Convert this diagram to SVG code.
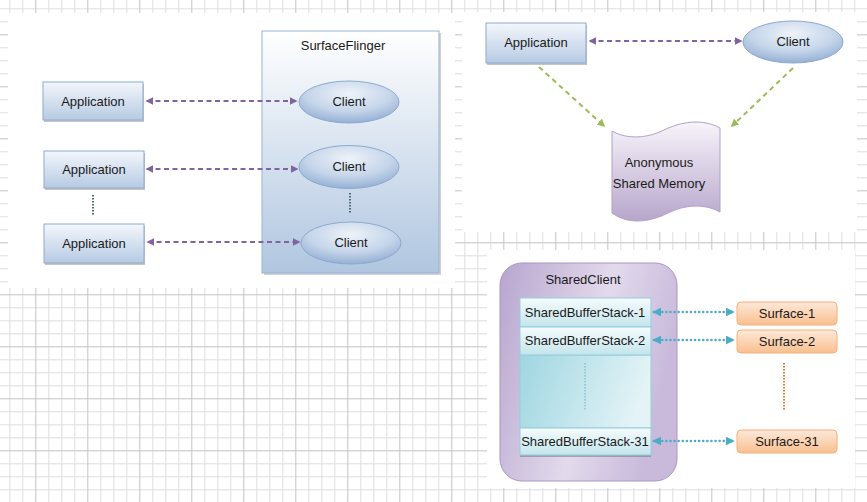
<svg xmlns="http://www.w3.org/2000/svg" width="867" height="502" viewBox="0 0 867 502">
<defs>
<pattern id="grid" patternUnits="userSpaceOnUse" x="9.3" y="8.3" width="52" height="52">
<path d="M0.5,0V52M13.5,0V52M39.5,0V52M0,0.5H52M0,13.5H52M0,39.5H52" stroke="#dedede" stroke-width="1" fill="none"/>
<path d="M26.5,0V52M0,26.5H52" stroke="#c4c4c4" stroke-width="1" fill="none"/>
</pattern>
<linearGradient id="gApp" x1="0" y1="0" x2="0" y2="1"><stop offset="0" stop-color="#f4f7fc"/><stop offset="1" stop-color="#b6cae3"/></linearGradient>
<linearGradient id="gSF" x1="0" y1="0" x2="0" y2="1"><stop offset="0" stop-color="#ffffff"/><stop offset="1" stop-color="#b0c6e0"/></linearGradient>
<radialGradient id="gCl" cx="0.5" cy="0.3" r="0.7"><stop offset="0" stop-color="#eef3f9"/><stop offset="0.6" stop-color="#c5d5ea"/><stop offset="1" stop-color="#95b0d4"/></radialGradient>
<linearGradient id="gMem" x1="0" y1="0" x2="0" y2="1"><stop offset="0" stop-color="#f7f4fa"/><stop offset="1" stop-color="#b7a6cc"/></linearGradient>
<linearGradient id="gSC" x1="0" y1="0" x2="1" y2="0.3"><stop offset="0" stop-color="#b8a5cf"/><stop offset="0.6" stop-color="#e2daec"/><stop offset="1" stop-color="#c9badb"/></linearGradient>
<linearGradient id="gRow" x1="0" y1="0" x2="0" y2="1"><stop offset="0" stop-color="#f6fbfc"/><stop offset="1" stop-color="#c3e5ec"/></linearGradient>
<linearGradient id="gMid" x1="0" y1="0" x2="1" y2="0.2"><stop offset="0" stop-color="#9fd6e1"/><stop offset="1" stop-color="#e3f3f6"/></linearGradient>
<linearGradient id="gSurf" x1="0" y1="0" x2="0" y2="1"><stop offset="0" stop-color="#fde9d9"/><stop offset="1" stop-color="#f9bf8f"/></linearGradient>
<marker id="mP" viewBox="0 0 10 10" refX="8" refY="5" markerWidth="4" markerHeight="4" orient="auto-start-reverse" markerUnits="strokeWidth"><path d="M0,0L10,5L0,10Z" fill="#8064a2"/></marker>
<marker id="mG" viewBox="0 0 10 10" refX="8" refY="5" markerWidth="4" markerHeight="4" orient="auto-start-reverse" markerUnits="strokeWidth"><path d="M0,0L10,5L0,10Z" fill="#9bbb59"/></marker>
<marker id="mT" viewBox="0 0 10 10" refX="8" refY="5" markerWidth="3.5" markerHeight="3.5" orient="auto-start-reverse" markerUnits="strokeWidth"><path d="M0,0L10,5L0,10Z" fill="#4bacc6"/></marker>
</defs>
<style>
text{font-family:"Liberation Sans",Arial,sans-serif;font-size:13px;fill:#1a1a1a;text-anchor:middle}
.app{fill:url(#gApp);stroke:#8eaad0;stroke-width:1}
.sh{fill:#7f7f7f;opacity:0.45}
.cl{fill:url(#gCl);stroke:#8ea9cf;stroke-width:1}
.pa{stroke:#8064a2;stroke-width:2;stroke-dasharray:5 3.5;fill:none;marker-start:url(#mP);marker-end:url(#mP)}
.ga{stroke:#9bbb59;stroke-width:2;stroke-dasharray:5 4;fill:none;marker-end:url(#mG)}
.ta{stroke:#4bacc6;stroke-width:2.5;stroke-dasharray:0.1 4;stroke-linecap:round;fill:none;marker-start:url(#mT);marker-end:url(#mT)}
.row{fill:url(#gRow);stroke:#93cddd;stroke-width:1}
.surf{fill:url(#gSurf);stroke:#f3b07a;stroke-width:1}
</style>
<rect width="867" height="502" fill="#ffffff"/>
<rect width="867" height="502" fill="url(#grid)"/>
<rect x="8" y="13" width="447" height="275" fill="#ffffff"/>
<rect x="462" y="12" width="395" height="220" fill="#ffffff"/>
<rect x="487" y="250" width="368" height="238" fill="#ffffff"/>

<g id="surfaceflinger">
<rect x="264" y="33" width="177" height="242" fill="#7f7f7f" opacity="0.35"/>
<rect x="262" y="31" width="177" height="242" fill="url(#gSF)" stroke="#95b3d7" stroke-width="1"/>
<text x="343" y="50">SurfaceFlinger</text>
</g>
<g id="app1"><rect class="sh" x="44" y="84" width="100" height="38"/><rect class="app" x="43" y="82" width="100" height="38"/><text x="93" y="106">Application</text></g>
<g id="app2"><rect class="sh" x="45" y="153" width="100" height="37"/><rect class="app" x="44" y="151" width="100" height="37"/><text x="94" y="174">Application</text></g>
<g id="app3"><rect class="sh" x="45" y="226" width="100" height="39"/><rect class="app" x="44" y="224" width="100" height="39"/><text x="94" y="248">Application</text></g>
<g id="client1"><ellipse class="cl" cx="349" cy="102" rx="50" ry="21"/><text x="349" y="106">Client</text></g>
<g id="client2"><ellipse class="cl" cx="349" cy="167" rx="50" ry="21.5"/><text x="349" y="171">Client</text></g>
<g id="client3"><ellipse class="cl" cx="351" cy="243" rx="50" ry="21"/><text x="351" y="247">Client</text></g>
<g id="dots1"><path d="M93,195V215" stroke="#4a6a7c" stroke-width="2" stroke-dasharray="1.5 1.5"/><path d="M350,193V213" stroke="#4a6a7c" stroke-width="2" stroke-dasharray="1.5 1.5"/></g>

<g id="app-tr"><rect class="sh" x="487" y="25" width="100" height="40"/><rect class="app" x="486" y="23" width="100" height="40"/><text x="536" y="47">Application</text></g>
<g id="client-tr"><ellipse class="cl" cx="793" cy="42" rx="50" ry="21"/><text x="793" y="46">Client</text></g>
<g id="shmem">
<path d="M612,131 C628,140 648,138 664,130 C680,122 702,118 720,128 L720,212 C704,203 684,205 668,213 C652,221 630,226 612,213 Z" fill="url(#gMem)" stroke="#b2a1c7" stroke-width="1"/>
<text x="659" y="167">Anonymous</text>
<text x="659" y="188">Shared Memory</text>
</g>

<g id="sharedclient">
<rect x="500" y="263" width="177" height="218" rx="22" fill="url(#gSC)" stroke="#a996c4" stroke-width="1"/>
<text x="583" y="284">SharedClient</text>
<rect x="520" y="298" width="131" height="159" fill="#6f6f6f" opacity="0.5"/>
<rect x="520" y="355" width="131" height="73" fill="url(#gMid)" stroke="#93cddd" stroke-width="1"/>
<path d="M585,363V411" stroke="#8cc3cf" stroke-width="1.5" stroke-dasharray="1.5 1.5"/>
</g>
<g id="sbs1"><rect class="row" x="520" y="298" width="131" height="29"/><text x="585" y="317">SharedBufferStack-1</text></g>
<g id="sbs2"><rect class="row" x="520" y="327" width="131" height="28"/><text x="585" y="345">SharedBufferStack-2</text></g>
<g id="sbs31"><rect class="row" x="520" y="428" width="131" height="27"/><text x="585" y="446">SharedBufferStack-31</text></g>
<g id="surf1"><rect class="surf" x="737" y="302" width="100" height="23" rx="4"/><text x="787" y="318">Surface-1</text></g>
<g id="surf2"><rect class="surf" x="737" y="330" width="100" height="23" rx="4"/><text x="787" y="346">Surface-2</text></g>
<g id="surf31"><rect class="surf" x="737" y="430" width="100" height="23" rx="4"/><text x="787" y="446">Surface-31</text></g>
<path d="M784,363V411" stroke="#e07b2a" stroke-width="2" stroke-dasharray="1.5 1.5"/>

<g id="connectors">
<path class="pa" d="M147,101H296"/>
<path class="pa" d="M147,169H297"/>
<path class="pa" d="M148,242H299"/>
<path class="pa" d="M590,41H741"/>
<path class="ga" d="M539,67L604,126"/>
<path class="ga" d="M793,68L732,126"/>
<path class="ta" d="M654,312H733"/>
<path class="ta" d="M654,340H733"/>
<path class="ta" d="M654,441H733"/>
</g>
</svg>
